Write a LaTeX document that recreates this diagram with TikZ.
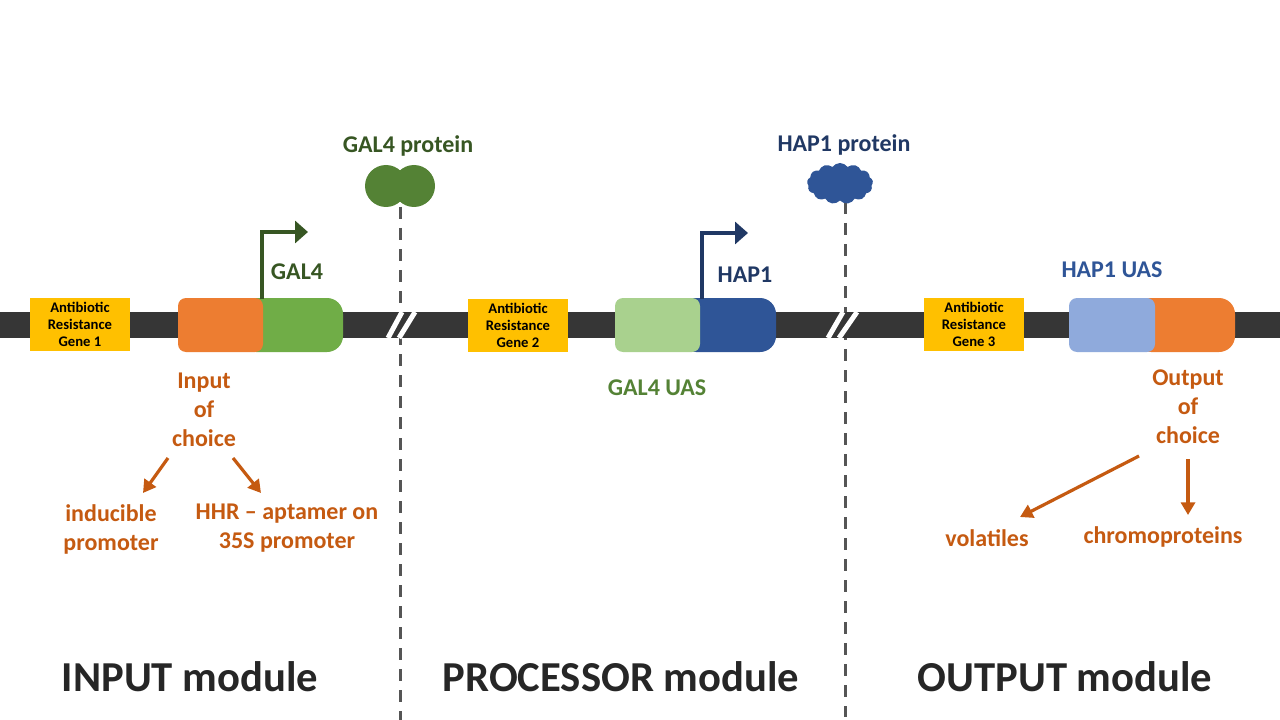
\documentclass[tikz,border=0pt]{standalone}
\usepackage{fontspec}
\setmainfont{Carlito}
\usetikzlibrary{arrows.meta,shapes.symbols}
\definecolor{barc}{HTML}{363636}
\definecolor{abyellow}{HTML}{FFC000}
\definecolor{orangeblk}{HTML}{ED7D31}
\definecolor{greenblk}{HTML}{70AD47}
\definecolor{darkgreen}{HTML}{375623}
\definecolor{protgreen}{HTML}{548235}
\definecolor{lightgreen}{HTML}{A9D18E}
\definecolor{blueblk}{HTML}{2F5597}
\definecolor{navy}{HTML}{203864}
\definecolor{lightblue}{HTML}{8FAADC}
\definecolor{orangetext}{HTML}{C55A11}
\definecolor{modtext}{HTML}{262626}
\definecolor{dashgray}{HTML}{555555}
\begin{document}
\begin{tikzpicture}[x=0.75pt,y=-0.75pt,
  abr/.style={fill=abyellow, minimum width=75pt, minimum height=39.75pt, inner sep=0pt, align=center, font=\bfseries\fontsize{11}{12.75}\selectfont},
  genepart/.style={minimum height=40.5pt, inner sep=0pt},
  backblk/.style={genepart, rounded corners=12pt},
  frontblk/.style={genepart, rounded corners=6pt},
  lbl/.style={font=\bfseries\fontsize{18}{21.75}\selectfont, align=center, inner sep=0pt},
  modlbl/.style={font=\bfseries\fontsize{32}{38}\selectfont, text=modtext, inner sep=0pt},
  dashline/.style={draw=dashgray, line width=2.25pt, dash pattern=on 9pt off 6.75pt},
  prom/.style={line width=3.6pt, line join=miter, -{Triangle[length=9.75pt,width=16.5pt]}},
  choicearr/.style={draw=orangetext, line width=2.4pt, -{Triangle[length=9.5pt,width=10.5pt]}},
  brk/.style={draw=white, line width=3.75pt}]
\useasboundingbox (0,0) rectangle (1280,720);
\fill[white] (0,0) rectangle (1280,720);

% dashed separators
\coordinate (d1t) at (400,207);
\coordinate (d1b) at (400,720);
\coordinate (d2t) at (845,202);
\coordinate (d2b) at (845,717);
\draw[dashline] (d1t) -- (d1b);
\draw[dashline] (d2t) -- (d2b);

% DNA bar
\fill[barc] (0,312) rectangle (1280,338);

% breaks
\draw[brk] (388,338) -- (402,312);
\draw[brk] (399,338) -- (415,312);
\draw[brk] (828,338) -- (843,312);
\draw[brk] (839,338) -- (857,312);

% antibiotic boxes
\node[abr] (ab1) at (80,324.5) {Antibiotic\\Resistance\\Gene 1};
\node[abr] (ab2) at (518,325) {Antibiotic\\Resistance\\Gene 2};
\node[abr] (ab3) at (974,324.5) {Antibiotic\\Resistance\\Gene 3};

% gene 1
\node[backblk, fill=greenblk, minimum width=77.25pt] (g1b) at (291.5,325) {};
\node[frontblk, fill=orangeblk, minimum width=63.75pt] (g1f) at (220.5,325) {};
% gene 2
\node[backblk, fill=blueblk, minimum width=72pt] (g2b) at (728,325) {};
\node[frontblk, fill=lightgreen, minimum width=63.75pt] (g2f) at (657.5,325) {};
% gene 3
\node[backblk, fill=orangeblk, minimum width=75pt] (g3b) at (1185,325) {};
\node[frontblk, fill=lightblue, minimum width=64.5pt] (g3f) at (1112,325) {};

% promoter arrows
\coordinate (p1s) at (262,299);
\coordinate (p1t) at (308,232);
\draw[prom, draw=darkgreen] (p1s) |- (p1t);
\coordinate (p2s) at (702,299);
\coordinate (p2t) at (748,233);
\draw[prom, draw=navy] (p2s) |- (p2t);

% proteins
\node[circle, fill=protgreen, minimum size=31.5pt, inner sep=0pt] (g4a) at (386,186) {};
\node[circle, fill=protgreen, minimum size=31.5pt, inner sep=0pt] (g4b) at (414,186) {};
\node[cloud, cloud puffs=13, cloud puff arc=110, aspect=1.6, fill=blueblk, minimum width=49.5pt, minimum height=30.75pt, inner sep=0pt] (hap) at (840,183.5) {};

% labels
\node[lbl, text=darkgreen] (lgal4) at (297,272) {GAL4};
\node[lbl, text=darkgreen] (lgal4p) at (408,146) {GAL4 protein};
\node[lbl, text=navy] (lhap1p) at (844,145) {HAP1 protein};
\node[lbl, text=navy] (lhap1) at (745,275) {HAP1};
\node[lbl, text=blueblk] (lhapuas) at (1112,270) {HAP1 UAS};
\node[lbl, text=protgreen] (lgaluas) at (657,388) {GAL4 UAS};

\node[lbl, text=orangetext] (inp) at (204,410) {Input\\of\\choice};
\node[lbl, text=orangetext] (ind) at (111,529.5) {inducible\\promoter};
\node[lbl, text=orangetext] (hhr) at (287,528.5) {HHR -- aptamer on\\35S promoter};
\node[lbl, text=orangetext] (outp) at (1188,407) {Output\\of\\choice};
\node[lbl, text=orangetext] (vol) at (987,538) {volatiles};
\node[lbl, text=orangetext] (chr) at (1163,537) {chromoproteins};

% choice arrows
\coordinate (a1s) at (168,458); \coordinate (a1e) at (143,493);
\coordinate (a2s) at (233,458); \coordinate (a2e) at (261,493);
\coordinate (a3s) at (1139,456); \coordinate (a3e) at (1020,517);
\coordinate (a4s) at (1188,459); \coordinate (a4e) at (1188,515);
\draw[choicearr] (a1s) -- (a1e);
\draw[choicearr] (a2s) -- (a2e);
\draw[choicearr] (a3s) -- (a3e);
\draw[choicearr] (a4s) -- (a4e);

% module labels
\node[modlbl] (min) at (190,677) {INPUT module};
\node[modlbl] (mproc) at (621,677) {PROCESSOR module};
\node[modlbl] (mout) at (1065,677) {OUTPUT module};
\end{tikzpicture}
\end{document}
